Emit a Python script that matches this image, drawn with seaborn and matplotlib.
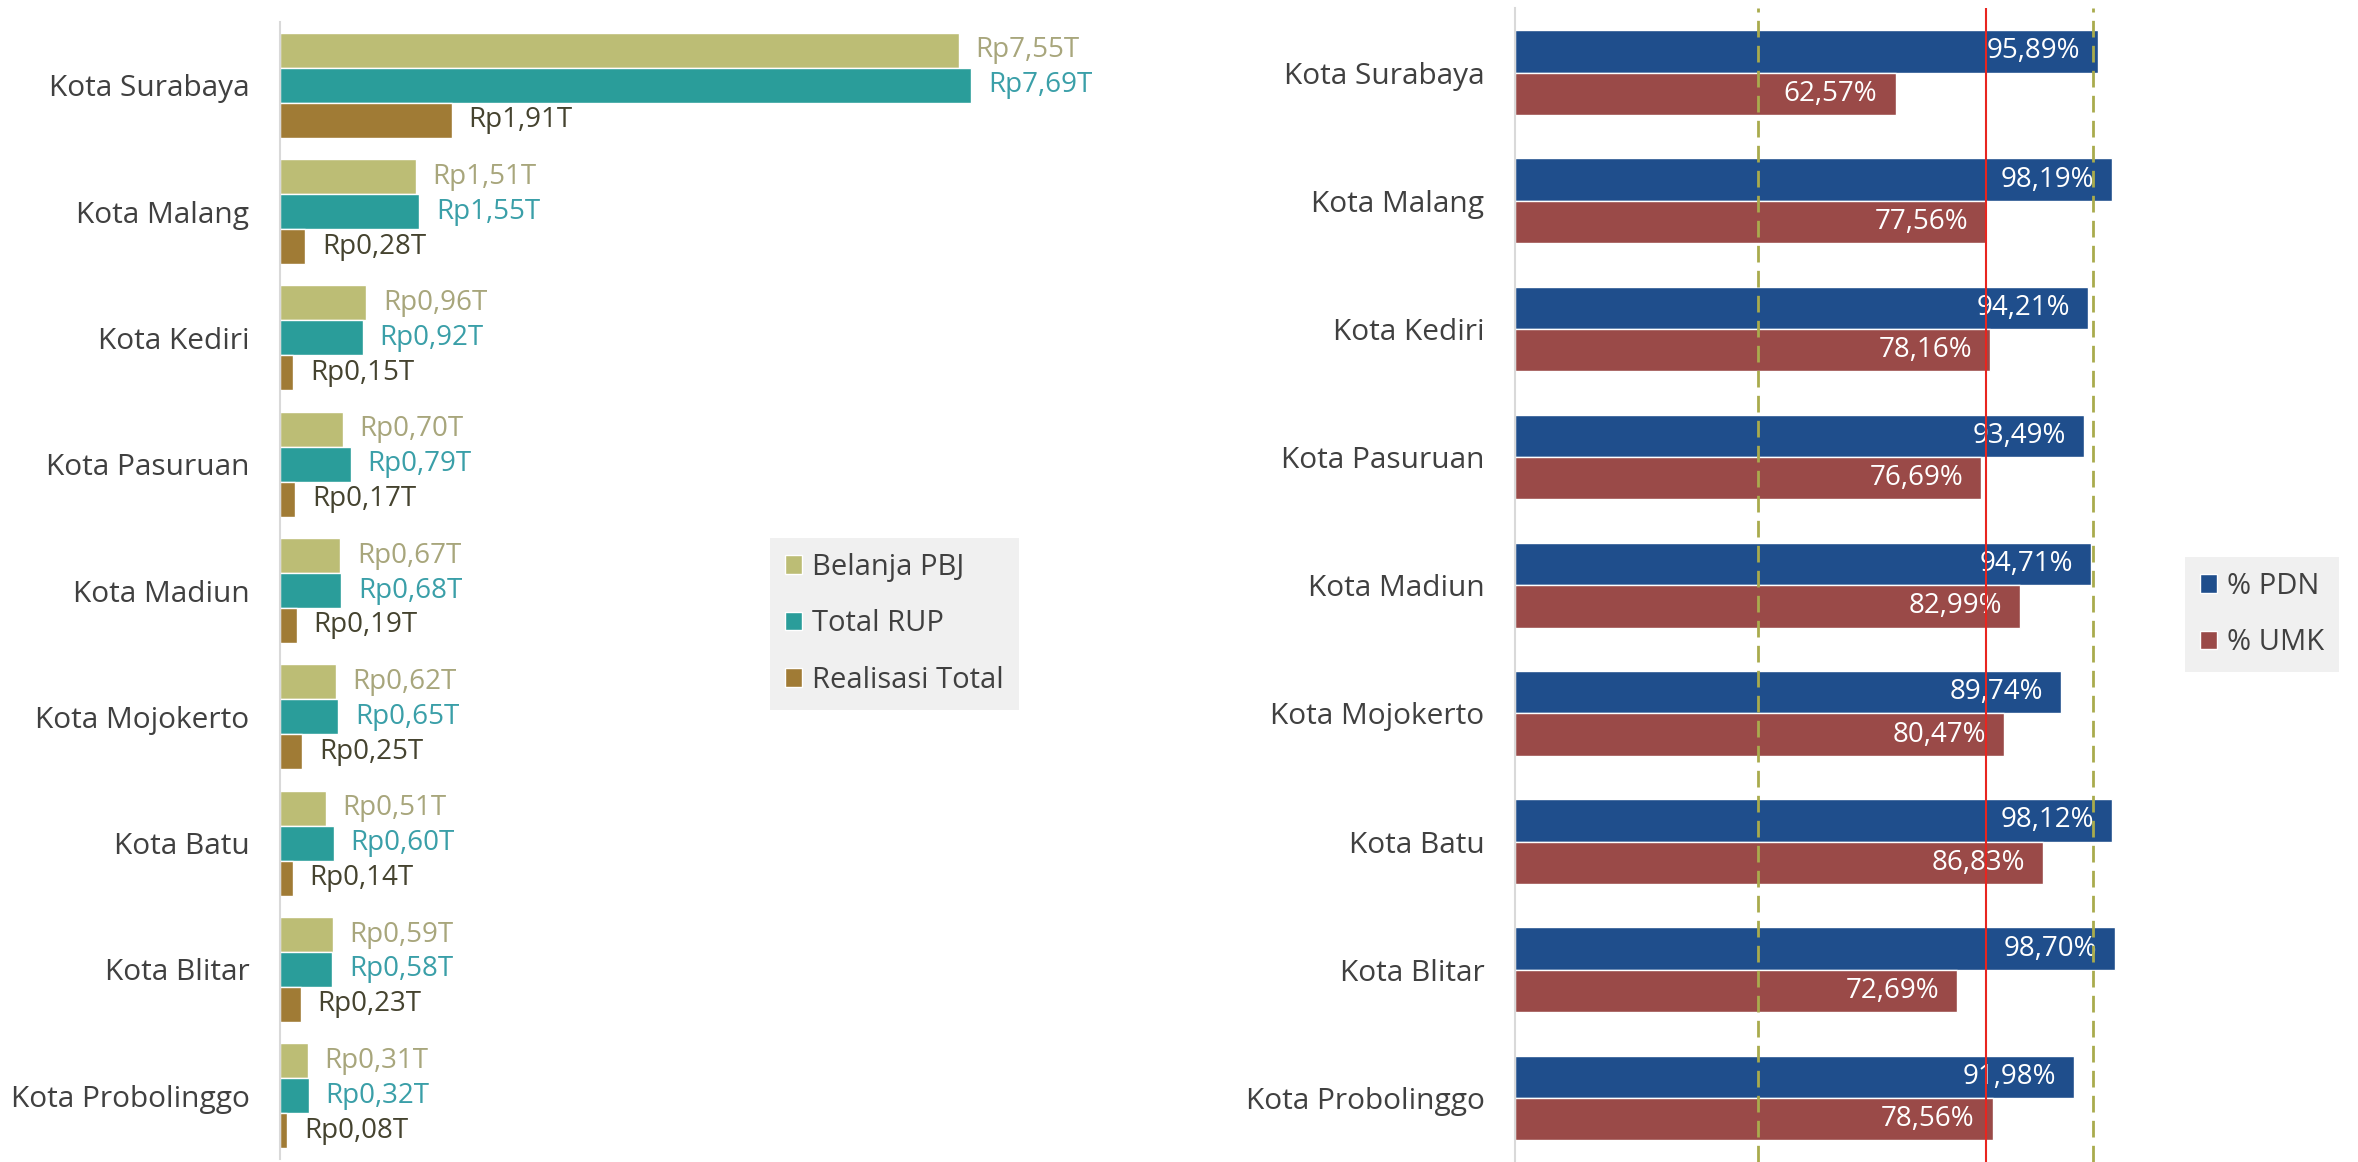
import matplotlib.pyplot as plt
import seaborn as sns
import pandas as pd

kota = ['Kota Surabaya', 'Kota Malang', 'Kota Kediri', 'Kota Pasuruan', 'Kota Madiun',
        'Kota Mojokerto', 'Kota Batu', 'Kota Blitar', 'Kota Probolinggo']
belanja_pbj = [7.55, 1.51, 0.96, 0.70, 0.67, 0.62, 0.51, 0.59, 0.31]
total_rup = [7.69, 1.55, 0.92, 0.79, 0.68, 0.65, 0.60, 0.58, 0.32]
realisasi_total = [1.91, 0.28, 0.15, 0.17, 0.19, 0.25, 0.14, 0.23, 0.08]
pdn = [95.89, 98.19, 94.21, 93.49, 94.71, 89.74, 98.12, 98.70, 91.98]
umk = [62.57, 77.56, 78.16, 76.69, 82.99, 80.47, 86.83, 72.69, 78.56]
seri_kiri = ['Belanja PBJ', 'Total RUP', 'Realisasi Total']
seri_kanan = ['% PDN', '% UMK']
garis_putus = [40, 95]
garis_merah = 77.5

warna_kiri = ['#bcbd75', '#2a9d9a', '#a07b35']
warna_teks_kiri = ['#a8a67c', '#3a9fa8', '#45432f']
warna_kanan = ['#1f4e8c', '#9a4a48']

sns.set_theme(style='white')
plt.rcParams['font.family'] = ['Open Sans', 'DejaVu Sans']

W, H = 2358, 1162
fig = plt.figure(figsize=(W / 100, H / 100), dpi=100)
ax1 = fig.add_axes([280 / W, 0.0026, 809 / W, 0.9784])
ax2 = fig.add_axes([1515 / W, 0.0, 669 / W, 0.9927])

df_kiri = pd.DataFrame({
    'Kota': kota * 3,
    'Nilai': belanja_pbj + total_rup + realisasi_total,
    'Seri': [s for s in seri_kiri for _ in kota],
})
df_kanan = pd.DataFrame({
    'Kota': kota * 2,
    'Nilai': pdn + umk,
    'Seri': [s for s in seri_kanan for _ in kota],
})


def rupiah(v):
    return f'Rp{v:.2f}T'.replace('.', ',')


def persen(v):
    return f'{v:.2f}%'.replace('.', ',')


# kiri: belanja / RUP / realisasi
sns.barplot(data=df_kiri, y='Kota', x='Nilai', hue='Seri', hue_order=seri_kiri, orient='h',
            palette=warna_kiri, saturation=1, width=0.83, ax=ax1)
for cont, vals, col in zip(ax1.containers, [belanja_pbj, total_rup, realisasi_total], warna_teks_kiri):
    ax1.bar_label(cont, labels=[rupiah(v) for v in vals], padding=12, color=col, fontsize=20)
ax1.set_xlim(0, 9)
ax1.set_ylim(8.5, -0.5)

# kanan: PDN / UMK
sns.barplot(data=df_kanan, y='Kota', x='Nilai', hue='Seri', hue_order=seri_kanan, orient='h',
            palette=warna_kanan, saturation=1, width=0.66, ax=ax2)
for cont, vals in zip(ax2.containers, [pdn, umk]):
    teks = ax2.bar_label(cont, labels=[persen(v) for v in vals], padding=-13, color='white', fontsize=20)
    for t in teks:
        t.set_ha('right')
for x in garis_putus:
    ax2.axvline(x, color='#a9ab4d', lw=2, ls=(0, (6, 3)), zorder=5)
ax2.axvline(garis_merah, color='#e8251f', lw=1.5, zorder=5)
ax2.set_xlim(0, 110)
ax2.set_ylim(8.5, -0.5)

for ax in (ax1, ax2):
    ax.set_xlabel('')
    ax.set_ylabel('')
    ax.set_xticks([])
    ax.tick_params(axis='y', length=0, pad=22, labelsize=21.5, labelcolor='#404040')
    for s in ('top', 'right', 'bottom'):
        ax.spines[s].set_visible(False)
    ax.spines['left'].set_color('#d9d9d9')
    ax.spines['left'].set_linewidth(1.5)

leg_kw = dict(loc='upper left', bbox_transform=fig.transFigure, frameon=True, facecolor='#f0f0f0',
              edgecolor='none', fancybox=False, fontsize=21, handlelength=0.6, handleheight=0.6,
              handletextpad=0.35, labelspacing=0.95, borderpad=0.5, borderaxespad=0,
              labelcolor='#404040', framealpha=1)
h, l = ax1.get_legend_handles_labels()
ax1.legend(h, l, bbox_to_anchor=(770 / W, 1 - 538 / H), **leg_kw)
h, l = ax2.get_legend_handles_labels()
ax2.legend(h, l, bbox_to_anchor=(2185 / W, 1 - 557 / H), **leg_kw)

fig.savefig('out.png', dpi=100)
